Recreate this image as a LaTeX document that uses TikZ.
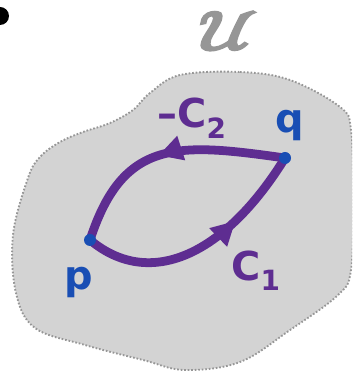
\documentclass[tikz,border=0pt]{standalone}
\usepackage{fontspec}
\setmainfont{DejaVu Sans}
\newfontfamily\regionfont[FakeBold=5]{Latin Modern Math}
\usetikzlibrary{arrows.meta, decorations.markings}

\definecolor{regiongray}{RGB}{211,211,211}
\definecolor{rimgray}{RGB}{150,150,150}
\definecolor{pathpurple}{RGB}{94,45,145}
\definecolor{pointblue}{RGB}{25,78,180}

\begin{document}
\begin{tikzpicture}[x=0.03cm, y=0.03cm,
    curve/.style={color=pathpurple, line width=7.5pt, line cap=round},
    midarrow/.style={postaction={decorate, decoration={markings,
        mark=at position #1 with {\arrow{Triangle[length=0.72cm, width=0.72cm]}}}}},
    lbl/.style={font=\fontsize{34}{36}\selectfont\bfseries},
    region/.style={fill=regiongray, draw=rimgray, line width=1.6pt, dash pattern=on 1.4pt off 1.6pt}]
      \clip (0,0) rectangle (352,375);

      % region and its name
      \draw[region] plot[smooth cycle, tension=0.6] coordinates {
        (180,300) (240,303) (290,295) (340,268) (351,245) (353,175)
        (351,105) (338,80) (290,45) (240,13) (185,5) (143,15)
        (85,30) (35,47) (16,82) (13,140) (28,197) (40,218)
        (60,233) (83,243) (110,252) (133,265) (150,282)};
      \node[text=rimgray, font=\fontsize{46}{48}\regionfont, xscale=1.45] (U) at (228,344) {𝒰};
      \fill[black] (0,359) circle (9);

      % end points
      \coordinate (p) at (90,135);
      \coordinate (q) at (285,217);

      % the two paths
      \draw[curve, midarrow=0.67] (p) .. controls (150,85) and (225,120) .. (q);
      \draw[curve, midarrow=0.53] (q) to[out=172, in=72, looseness=1.3] (p);

      \fill[pointblue] (p) circle (6);
      \fill[pointblue] (q) circle (6);

      \node[lbl, text=pointblue] (plbl) at (79,93) {p};
      \node[lbl, text=pointblue] (qlbl) at (290,249) {q};
      \node[lbl, text=pathpurple] (c1lbl) at (256,104) {C\textsubscript{1}};
      \node[lbl, text=pathpurple] (c2lbl) at (192,257) {–C\textsubscript{2}};
\end{tikzpicture}
\end{document}
